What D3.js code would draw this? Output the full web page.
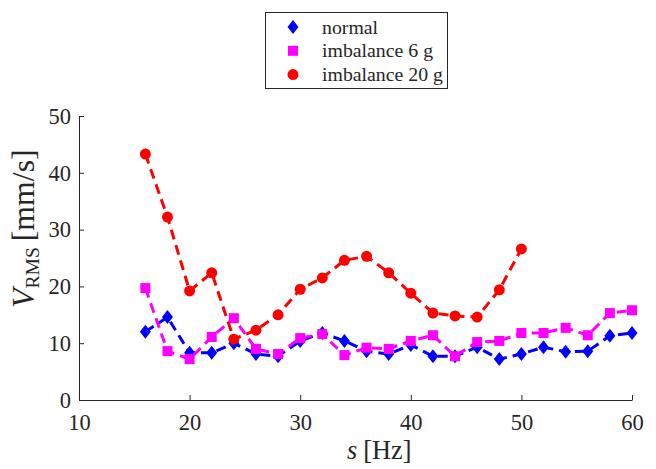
<!DOCTYPE html>
<html><head><meta charset="utf-8">
<script src="https://cdn.jsdelivr.net/npm/d3@7"></script>
<style>body{margin:0;background:#fff}svg{display:block}</style>
</head><body>
<script>
const xFull = [16,18,20,22,24,26,28,30,32,34,36,38,40,42,44,46,48,50,52,54,56,58,60];
const xRed = [16,18,20,22,24,26,28,30,32,34,36,38,40,42,44,46,48,50];
const normal = [12.0,14.6,8.3,8.3,10.0,8.1,7.7,10.4,11.8,10.4,8.6,8.1,9.7,7.7,7.7,9.3,7.2,8.1,9.3,8.5,8.6,11.3,11.8];
const imb6 = [19.7,8.6,7.2,11.1,14.4,9.0,8.1,10.9,11.6,7.9,9.2,9.0,10.4,11.4,7.7,10.2,10.4,11.8,11.8,12.7,11.4,15.3,15.8];
const imb20 = [43.3,32.2,19.2,22.4,10.7,12.3,15.0,19.5,21.5,24.6,25.3,22.4,18.8,15.3,14.8,14.6,19.4,26.6];
const xTicks = [10,20,30,40,50,60];
const yTicks = [0,10,20,30,40,50];
const seriesNames = ["normal","imbalance 6 g","imbalance 20 g"];
const colors = ["#0000ff","#ff00ff","#ff0000"];
const SERIF = "'Liberation Serif','Times New Roman',Tinos,'DejaVu Serif','Noto Serif',Times,serif";
const INK = "#262626";

const W=656,H=469;
const svg=d3.select("body").append("svg").attr("width",W).attr("height",H)
  .style("font-family",SERIF);
const x=d3.scaleLinear().domain([10,60]).range([79,632]);
const y=d3.scaleLinear().domain([0,50]).range([400,116]);

// helper: font size (at 2x, drawn at scale 0.5) making a sample reach a target width
function fitSize2(sample, target){
  const base=40;
  const t=svg.append("text").attr("font-size",base).text(sample);
  const w=t.node().getBBox().width;
  t.remove();
  return w>0 ? base*(2*target)/w : base;
}
const tickSize2 = fitSize2("10",22.5);
const legSize2 = fitSize2("imbalance 20 g",121);

// axes
const gx=svg.append("g").attr("transform","translate(0,400)")
  .call(d3.axisBottom(x).tickValues(xTicks).tickSizeInner(-5).tickSizeOuter(0));
const gy=svg.append("g").attr("transform","translate(79,0)")
  .call(d3.axisLeft(y).tickValues(yTicks).tickSizeInner(-5).tickSizeOuter(0).tickPadding(8));
[gx,gy].forEach(g=>{
  g.attr("font-family",null).attr("font-size",null);
  g.select(".domain").attr("stroke",INK).attr("stroke-width",1);
  g.selectAll(".tick line").attr("stroke",INK);
  g.selectAll(".tick text").attr("font-size",tickSize2).attr("fill",INK).attr("transform","scale(0.5)");
});
gx.selectAll(".tick text").attr("y",60).attr("dy",0);
gy.selectAll(".tick text").attr("x",-16);

// lines and markers
const data=[
  {vals:normal,xs:xFull,c:colors[0],m:"diamond"},
  {vals:imb6,xs:xFull,c:colors[1],m:"square"},
  {vals:imb20,xs:xRed,c:colors[2],m:"circle"}
];
const line=d3.line().x(d=>x(d[0])).y(d=>y(d[1]));
function marker(g,type,cx,cy,c){
  if(type==="diamond"){
    g.append("path").attr("d",`M${cx},${cy-7}L${cx+5.5},${cy}L${cx},${cy+7}L${cx-5.5},${cy}Z`).attr("fill",c);
  } else if(type==="square"){
    g.append("rect").attr("x",cx-5).attr("y",cy-5).attr("width",10).attr("height",10).attr("fill",c);
  } else {
    g.append("circle").attr("cx",cx).attr("cy",cy).attr("r",5.5).attr("fill",c);
  }
}
data.forEach(s=>{
  const pts=s.xs.map((xv,i)=>[xv,s.vals[i]]);
  svg.append("path").datum(pts).attr("d",line).attr("fill","none").attr("stroke",s.c)
    .attr("stroke-width",3).attr("stroke-dasharray","10,6");
  const g=svg.append("g");
  pts.forEach(p=>marker(g,s.m,x(p[0]),y(p[1]),s.c));
});

// x label: spans ~347..412, baseline ~459
const xl=svg.append("text").attr("x",0).attr("y",459).attr("font-size",24).attr("fill",INK);
xl.append("tspan").attr("font-style","italic").text("s");
xl.append("tspan").attr("dx",6).text("[Hz]");
{
  const w=xl.node().getBBox().width;
  const fs=24*65/w;
  xl.attr("font-size",fs);
  const bb=xl.node().getBBox();
  xl.attr("x",347-bb.x);
}

// y label: spans y 308 (start) .. 148 (end), baseline x ~34
const yl=svg.append("text").attr("transform","translate(34,308) rotate(-90)").attr("font-size",26).attr("fill",INK);
yl.append("tspan").attr("font-style","italic").text("V");
yl.append("tspan").attr("font-size",16).attr("dy",5).text("RMS");
yl.append("tspan").attr("dy",-5).attr("dx",6).text("[mm/s]");
{
  const w=yl.node().getBBox().width;
  if(w>0){
    const k=160/w;
    yl.attr("font-size",26*k);
    yl.select("tspan:nth-child(2)").attr("font-size",16*k);
  }
}

// legend
const lg=svg.append("g");
lg.append("rect").attr("x",265.5).attr("y",12.5).attr("width",182).attr("height",76).attr("fill","#fff").attr("stroke",INK).attr("stroke-width",1);
seriesNames.forEach((n,i)=>{
  const cy=27+i*23.8;
  marker(lg,data[i].m,293,cy,colors[i]);
  lg.append("text").attr("transform",`translate(322,${cy+6.5}) scale(0.5)`)
    .attr("font-size",legSize2).attr("fill",INK).text(n);
});
</script>
</body></html>
